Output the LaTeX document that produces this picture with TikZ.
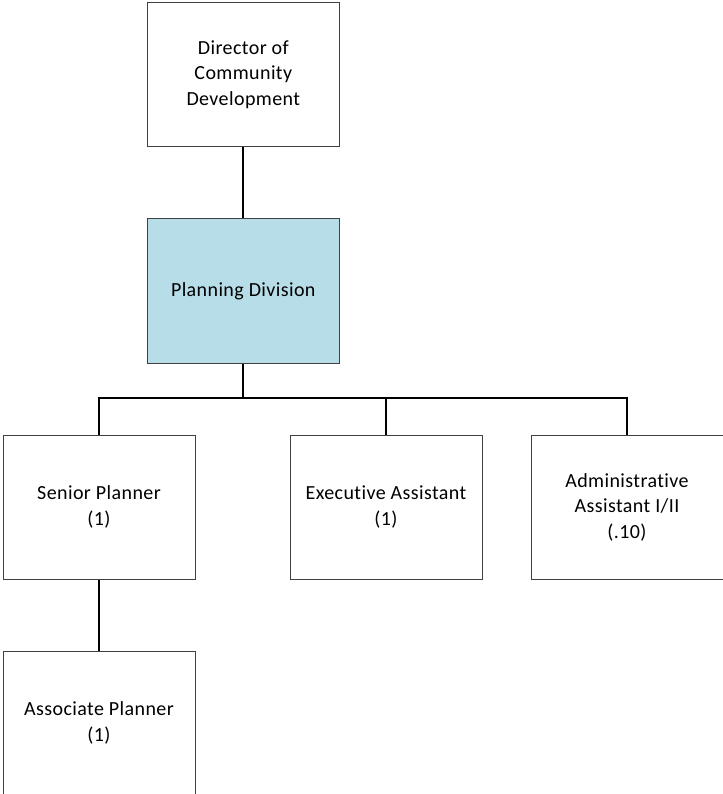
\documentclass[tikz,border=0pt]{standalone}
\usepackage{fontspec}
\setmainfont{Carlito}[Ligatures=NoCommon, LetterSpace=2]
\definecolor{boxline}{HTML}{404040}
\definecolor{divfill}{HTML}{B7DDE8}
\begin{document}
\begin{tikzpicture}[x=1pt,y=-1pt,
  orgbox/.style={draw=boxline, line width=1pt, fill=white, minimum width=192pt,
    minimum height=144pt, align=center, inner sep=2pt,
    font=\fontsize{20}{25.5}\selectfont},
  link/.style={draw=black, line width=2pt}]
\useasboundingbox (0,0) rectangle (722,794);

% boxes
\node[orgbox] (director) at (243.3,74.5) {Director of\\Community\\Development};
\node[orgbox, fill=divfill] (division) at (243.3,291) {Planning Division};
\node[orgbox] (senior) at (99,507) {Senior Planner\\(1)};
\node[orgbox] (exec) at (386,507) {Executive Assistant\\(1)};
\node[orgbox] (admin) at (627,507) {Administrative\\Assistant I/II\\(.10)};
\node[orgbox] (associate) at (99,723) {Associate Planner\\(1)};

% reporting lines
\coordinate (bus) at (243.3,398.3);
\draw[link] (director.south) -- (division.north);
\draw[link] (division.south) -- (bus);
\draw[link] (senior.north) |- (bus) -| (admin.north);
\draw[link] (exec.north) -- (exec.north |- bus);
\draw[link] (senior.south) -- (associate.north);
\end{tikzpicture}
\end{document}
